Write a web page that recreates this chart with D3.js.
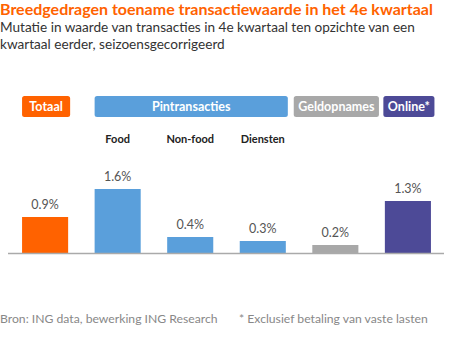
<!DOCTYPE html>
<html>
<head>
<meta charset="utf-8">
<script src="https://cdn.jsdelivr.net/npm/d3@7"></script>
<style>
  html, body { margin: 0; padding: 0; background: #fff; }
  svg { display: block; font-family: Lato, "Open Sans", sans-serif; }
</style>
</head>
<body>
<svg id="chart" width="450" height="342"></svg>
<script>
// Quarter-on-quarter change in transaction value, Q4, seasonally adjusted (%)
const categories = ["Totaal", "Food", "Non-food", "Diensten", "Geldopnames", "Online"];
const values = [0.9, 1.6, 0.4, 0.3, 0.2, 1.3];
const valueLabels = ["0.9%", "1.6%", "0.4%", "0.3%", "0.2%", "1.3%"];
const barColors = ["#ff6200", "#5a9fdb", "#5a9fdb", "#5a9fdb", "#a8a8a8", "#4d4a97"];

// Sub-labels shown under the Pintransacties header
const subLabels = ["", "Food", "Non-food", "Diensten", "", ""];

// Header groups: name, first and last category covered, colour
const groupNames = ["Totaal", "Pintransacties", "Geldopnames", "Online*"];
const groupFrom = ["Totaal", "Food", "Geldopnames", "Online"];
const groupTo = ["Totaal", "Diensten", "Geldopnames", "Online"];
const groupColors = ["#ff6200", "#5a9fdb", "#a8a8a8", "#4d4a97"];

const title = "Breedgedragen toename transactiewaarde in het 4e kwartaal";
const subtitle = ["Mutatie in waarde van transacties in 4e kwartaal ten opzichte van een",
                  "kwartaal eerder, seizoensgecorrigeerd"];
const source = "Bron: ING data, bewerking ING Research";
const note = "* Exclusief betaling van vaste lasten";

const svg = d3.select("#chart");

const x = d3.scaleBand()
  .domain(categories)
  .range([9, 444])
  .paddingInner(0.365)
  .paddingOuter(0.18);

const y = d3.scaleLinear().domain([0, 2]).range([253, 173]);

// Titles
svg.append("text")
  .attr("x", 0).attr("y", 15)
  .attr("fill", "#ff6200")
  .attr("font-weight", 700)
  .attr("font-size", 16)
  .text(title);

svg.selectAll("text.subtitle")
  .data(subtitle)
  .join("text")
  .attr("class", "subtitle")
  .attr("x", 0)
  .attr("y", (d, i) => 32 + i * 17)
  .attr("fill", "#333")
  .attr("font-size", 13.6)
  .text(d => d);

// Header boxes
const groups = groupNames.map((name, i) => ({
  name,
  x0: x(groupFrom[i]),
  x1: x(groupTo[i]) + x.bandwidth(),
  color: groupColors[i]
}));

const gHead = svg.append("g").attr("class", "headers");
const heads = gHead.selectAll("g").data(groups).join("g");

heads.append("text")
  .attr("y", 111)
  .attr("text-anchor", "middle")
  .attr("fill", "#fff")
  .attr("font-weight", 700)
  .attr("font-size", 12.5)
  .text(d => d.name)
  .each(function (d) {
    const tw = this.getComputedTextLength();
    const span = d.x1 - d.x0;
    const w = Math.max(span + 2, tw + 9);
    const cx = (d.x0 + d.x1) / 2 + 1;
    d.bx = cx - w / 2;
    d.bw = w;
    d3.select(this).attr("x", cx);
  });

heads.insert("rect", "text")
  .attr("x", d => d.bx)
  .attr("y", 96)
  .attr("width", d => d.bw)
  .attr("height", 21)
  .attr("rx", 2.5)
  .attr("fill", d => d.color);

// Sub-category labels
svg.selectAll("text.sub")
  .data(categories.filter((c, i) => subLabels[i]))
  .join("text")
  .attr("class", "sub")
  .attr("x", d => x(d) + x.bandwidth() / 2)
  .attr("y", 143)
  .attr("text-anchor", "middle")
  .attr("fill", "#222")
  .attr("font-weight", 700)
  .attr("font-size", 11)
  .text(d => subLabels[categories.indexOf(d)]);

// Bars
svg.selectAll("rect.bar")
  .data(values)
  .join("rect")
  .attr("class", "bar")
  .attr("x", (d, i) => x(categories[i]))
  .attr("y", d => y(d))
  .attr("width", x.bandwidth())
  .attr("height", d => y(0) - y(d))
  .attr("fill", (d, i) => barColors[i]);

// Value labels
svg.selectAll("text.val")
  .data(values)
  .join("text")
  .attr("class", "val")
  .attr("x", (d, i) => x(categories[i]) + x.bandwidth() / 2)
  .attr("y", d => y(d) - 8)
  .attr("text-anchor", "middle")
  .attr("fill", "#555")
  .attr("font-size", 12.5)
  .text((d, i) => valueLabels[i]);

// Baseline
const axis = d3.axisBottom(x).tickSize(0).tickFormat("");
const gAxis = svg.append("g")
  .attr("transform", `translate(0,${y(0)})`)
  .call(axis);
gAxis.select(".domain")
  .attr("d", "M8,0.5H444")
  .attr("stroke", "#aaa")
  .attr("stroke-width", 1.5);

// Footer
svg.append("text")
  .attr("x", 0).attr("y", 323)
  .attr("fill", "#888")
  .attr("font-size", 12.2)
  .text(source);
svg.append("text")
  .attr("x", 239).attr("y", 323)
  .attr("fill", "#888")
  .attr("font-size", 12.2)
  .text(note);
</script>
</body>
</html>
